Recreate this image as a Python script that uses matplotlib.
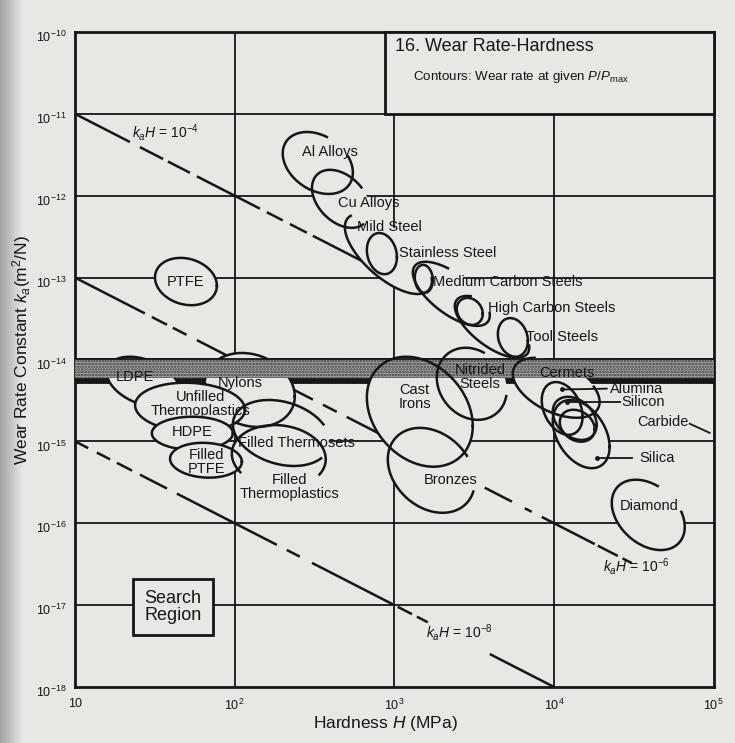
import numpy as np
import matplotlib
matplotlib.use('Agg')
import matplotlib.pyplot as plt
from matplotlib.patches import Rectangle
from matplotlib.transforms import ScaledTranslation

plt.rcParams['font.family'] = ['Liberation Sans', 'DejaVu Sans']
plt.rcParams['mathtext.fontset'] = 'custom'
plt.rcParams['mathtext.rm'] = 'Liberation Sans'
plt.rcParams['mathtext.it'] = 'Liberation Sans:italic'
plt.rcParams['mathtext.bf'] = 'Liberation Sans:bold'
plt.rcParams['hatch.linewidth'] = 1.3

PAPER = '#e7e7e4'
INK = '#161616'

# material envelopes: hardness range (MPa), wear-rate constant range (m2/N), tilt (deg)
env_h_lo = [31.7, 97.5, 96, 200, 305, 490, 673, 1306, 1343, 2393, 2460, 4450,
            1845, 673, 910, 5520, 8380, 9820, 10870, 9820, 23000]
env_h_hi = [77.4, 395, 372, 550, 703, 1720, 1038, 3963, 1742, 7000, 3580, 6860,
            5060, 3100, 3190, 19300, 15100, 18500, 17990, 22300, 65900]
env_k_lo = [4.6e-14, 5.0e-16, 2.7e-16, 1.05e-12, 4.05e-13, 6.3e-14, 1.1e-13, 2.57e-14,
            6.5e-14, 1.05e-14, 2.64e-14, 1.08e-14, 1.83e-15, 4.9e-16, 1.34e-16, 1.94e-15,
            1.2e-15, 1.04e-15, 9.9e-16, 4.7e-16, 4.7e-17]
env_k_hi = [1.74e-13, 3.2e-15, 1.58e-15, 6.0e-12, 2.07e-12, 6.0e-13, 3.5e-13, 1.56e-13,
            1.43e-13, 5.97e-14, 5.65e-14, 3.2e-14, 1.39e-14, 1.08e-14, 1.46e-15, 1.05e-14,
            5.3e-15, 3.5e-15, 2.43e-15, 3.2e-15, 3.4e-16]
env_tilt = [100, 105, 95, 108, 112, 132, 100, 132, 95, 132, 100, 100,
            100, 105, 105, 118, 108, 108, 103, 112, 110]
env_gap = [None, (-35, 30), (215, 330), (30, 75), (-40, 45), (5, 150), None, (5, 95),
           None, (5, 125), None, None, (-10, 70), None, (-15, 35), (30, 120),
           None, None, None, None, (25, 75)]

# polymer cluster, drawn as overlapping bubbles (Nylons, LDPE, Unfilled, HDPE, Filled PTFE)
cl_h_lo = [65, 15.8, 23.8, 30.3, 39.4]
cl_h_hi = [238, 45.4, 116, 97.5, 111]
cl_k_lo = [1.5e-15, 2.64e-15, 1.3e-15, 7.9e-16, 3.6e-16]
cl_k_hi = [1.2e-14, 1.08e-14, 5.2e-15, 2.0e-15, 9.6e-16]
cl_tilt = [100, 112, 95, 90, 95]

labels = ['Al Alloys', 'Cu Alloys', 'Mild Steel', 'Stainless Steel', 'Medium Carbon Steels',
          'High Carbon Steels', 'Tool Steels', 'PTFE', 'LDPE', 'Nylons',
          'Unfilled\nThermoplastics', 'HDPE', 'Filled\nPTFE', 'Filled Thermosets',
          'Filled\nThermoplastics', 'Cast\nIrons', 'Nitrided\nSteels', 'Cermets', 'Bronzes',
          'Diamond']
label_h = [395, 690, 937, 2160, 5130, 9680, 11200, 49.5, 23.8, 108,
           61, 54, 67, 245, 222, 1343, 3430, 12000, 2260, 39200]
label_k = [3.43e-12, 8.2e-13, 4.16e-13, 2.0e-13, 8.85e-14, 4.27e-14, 1.89e-14, 8.85e-14,
           6.1e-15, 5.2e-15, 2.87e-15, 1.31e-15, 5.6e-16, 9.6e-16, 2.78e-16, 3.5e-15,
           6.1e-15, 6.86e-15, 3.39e-16, 1.63e-16]

# ceramics labelled with leader lines
lead_text = ['Alumina', 'Silicon', 'Carbide', 'Silica']
lead_h0 = [11200, 12000, 70800, 18500]
lead_h1 = [21400, 25800, 94400, 30700]
lead_k0 = [4.3e-15, 3.03e-15, 1.64e-15, 6.3e-16]
lead_k1 = [4.4e-15, 3.03e-15, 1.27e-15, 6.3e-16]
lead_dot = [True, True, False, True]
lead_th = [22300, 26500, 33400, 34400]
lead_tk = [4.4e-15, 3.03e-15, 1.73e-15, 6.3e-16]

# contours k_a H = const (H in Pa), drawn as visible pieces (H ranges, MPa)
iso_level = [1e-4, 1e-6, 1e-8]
iso_pieces = [
    [(10, 22.1), (25.5, 35.6), (38.2, 52.5), (58, 144), (159, 200), (222, 283), (309, 700)],
    [(10, 27.4), (30.3, 37.7), (41, 50), (58, 95), (232, 309), (357, 436), (503, 820),
     (3680, 5450), (6560, 7250), (8380, 18000), (18800, 25100), (26900, 30700)],
    [(10, 12.1), (13.7, 16.6), (18.3, 22.8), (25.5, 37.7), (43.5, 184), (212, 256),
     (305, 977), (1050, 1290), (1385, 1620), (3960, 10000)],
]
iso_text = ['$k_aH$ = 10$^{-4}$', '$k_aH$ = 10$^{-6}$', '$k_aH$ = 10$^{-8}$']
iso_text_h = [36.6, 33000, 2570]
iso_text_k = [5.85e-12, 2.94e-17, 4.6e-18]

# stippled "search" band and the heavy line under it
band_top, band_bot, band_line = 1e-14, 10 ** -14.23, 10 ** -14.26

x_ticks = [10, 1e2, 1e3, 1e4, 1e5]
x_tick_labels = ['10', '10$^2$', '10$^3$', '10$^4$', '10$^5$']
y_ticks = [10.0 ** e for e in range(-18, -9)]
y_tick_labels = ['10$^{%d}$' % e for e in range(-18, -9)]


def envelope(hlo, hhi, klo, khi, tilt, gap=None, n=260):
    x0, x1 = np.log10(hlo), np.log10(hhi)
    y0, y1 = np.log10(klo), np.log10(khi)
    cx, rx = (x0 + x1) / 2, (x1 - x0) / 2
    cy, ry = (y0 + y1) / 2, (y1 - y0) / 2
    if gap is None:
        t = np.linspace(0, 360, n)
    else:
        t = np.linspace(gap[1], gap[0] + 360, n)
    t = np.radians(t)
    return 10 ** (cx + rx * np.cos(t)), 10 ** (cy + ry * np.cos(t - np.radians(tilt)))


fig = plt.figure(figsize=(7.35, 7.43), dpi=100, facecolor=PAPER)

# darker gutter of the scanned page on the left edge
gut = fig.add_axes([0, 0, 0.03, 1])
gut.axis('off')
shade = np.linspace(0.64, 0.905, 40)
img = np.dstack([shade, shade, shade * 0.995]).repeat(2, axis=0)
gut.imshow(img, aspect='auto', extent=[0, 1, 0, 1])

ax = fig.add_axes([0.102, 0.0754, 0.869, 0.8816])
ax.set_facecolor(PAPER)
ax.set_xscale('log')
ax.set_yscale('log')
ax.set_xlim(10, 1e5)
ax.set_ylim(1e-18, 1e-10)
ax.set_xticks(x_ticks, x_tick_labels)
ax.set_yticks(y_ticks, y_tick_labels)
ax.minorticks_off()
ax.tick_params(length=0, pad=6, labelsize=9, colors=INK)
ax.tick_params(axis='x', pad=8)
for lab in ax.get_yticklabels():
    lab.set_transform(lab.get_transform() + ScaledTranslation(0, -3 / 72, fig.dpi_scale_trans))
for sp in ax.spines.values():
    sp.set_linewidth(2)
    sp.set_color(INK)

ax.set_xlabel('Hardness $H$ (MPa)', fontsize=12.5, color=INK)
ax.set_ylabel('Wear Rate Constant $k_a$(m$^2$/N)', fontsize=12.5, color=INK)
ax.xaxis.set_label_coords(0.486, -0.042)
ax.yaxis.set_label_coords(-0.066, 0.515)

# grid
for xv in x_ticks[1:-1]:
    ax.axvline(xv, color=INK, lw=1.3, zorder=1)
for yv in y_ticks[1:-1]:
    ax.axhline(yv, color=INK, lw=1.3, zorder=1)

# contours
for lev, pieces in zip(iso_level, iso_pieces):
    for h0, h1 in pieces:
        hh = np.array([h0, h1])
        ax.plot(hh, lev / (hh * 1e6), color=INK, lw=1.8, zorder=1.5, solid_capstyle='butt')
for txt, th, tk in zip(iso_text, iso_text_h, iso_text_k):
    ax.text(th, tk, txt, fontsize=10, color=INK, ha='center', va='center', zorder=7)

# band
ax.plot([10, 1e5], [band_line, band_line], color=INK, lw=4.2, zorder=2, solid_capstyle='butt')
ax.fill_between([10, 1e5], band_bot, band_top, facecolor='#b9b9b5', edgecolor='#2e2e2e',
                hatch='......', linewidth=0, zorder=4)
ax.plot([10, 1e5], [band_top, band_top], color=INK, lw=1.3, zorder=4.2)

# single envelopes
for i in range(len(env_h_lo)):
    hx, ky = envelope(env_h_lo[i], env_h_hi[i], env_k_lo[i], env_k_hi[i], env_tilt[i])
    ax.fill(hx, ky, color=PAPER, lw=0, zorder=3)
    hx, ky = envelope(env_h_lo[i], env_h_hi[i], env_k_lo[i], env_k_hi[i], env_tilt[i], env_gap[i])
    ax.plot(hx, ky, color=INK, lw=1.8, zorder=5)

# polymer bubbles, each hiding the one before
for i in range(len(cl_h_lo)):
    hx, ky = envelope(cl_h_lo[i], cl_h_hi[i], cl_k_lo[i], cl_k_hi[i], cl_tilt[i])
    ax.fill(hx, ky, color=PAPER, lw=0, zorder=3.1 + 0.02 * i)
    ax.plot(hx, ky, color=INK, lw=1.8, zorder=3.11 + 0.02 * i)

for txt, lh, lk in zip(labels, label_h, label_k):
    ax.text(lh, lk, txt, fontsize=10.5, color=INK, ha='center', va='center',
            linespacing=1.0, zorder=7)

for i, txt in enumerate(lead_text):
    ax.plot([lead_h0[i], lead_h1[i]], [lead_k0[i], lead_k1[i]], color=INK, lw=1.3, zorder=6)
    if lead_dot[i]:
        ax.plot([lead_h0[i]], [lead_k0[i]], 'o', color=INK, ms=2.5, zorder=6)
    ax.text(lead_th[i], lead_tk[i], txt, fontsize=10.5, color=INK, ha='left', va='center',
            zorder=7)

# title box
ax.add_patch(Rectangle((870, 1e-11), 1e5 - 870, 1e-10 - 1e-11, facecolor=PAPER,
                       edgecolor=INK, lw=2, zorder=6, clip_on=False))
ax.text(1007, 6.56e-11, '16. Wear Rate-Hardness', fontsize=13, color=INK, ha='left',
        va='center', zorder=7)
ax.text(1306, 2.82e-11, 'Contours: Wear rate at given $P$/$P_{\\mathrm{max}}$', fontsize=9.6,
        color=INK, ha='left', va='center', zorder=7)

# search region box
ax.add_patch(Rectangle((23.1, 4.34e-18), 73 - 23.1, 2.09e-17 - 4.34e-18, facecolor=PAPER,
                       edgecolor=INK, lw=2, zorder=6))
ax.text(41, 9.5e-18, 'Search\nRegion', fontsize=13, color=INK, ha='center', va='center',
        linespacing=1.0, zorder=7)

fig.savefig('out.png', dpi=100, facecolor=PAPER)
